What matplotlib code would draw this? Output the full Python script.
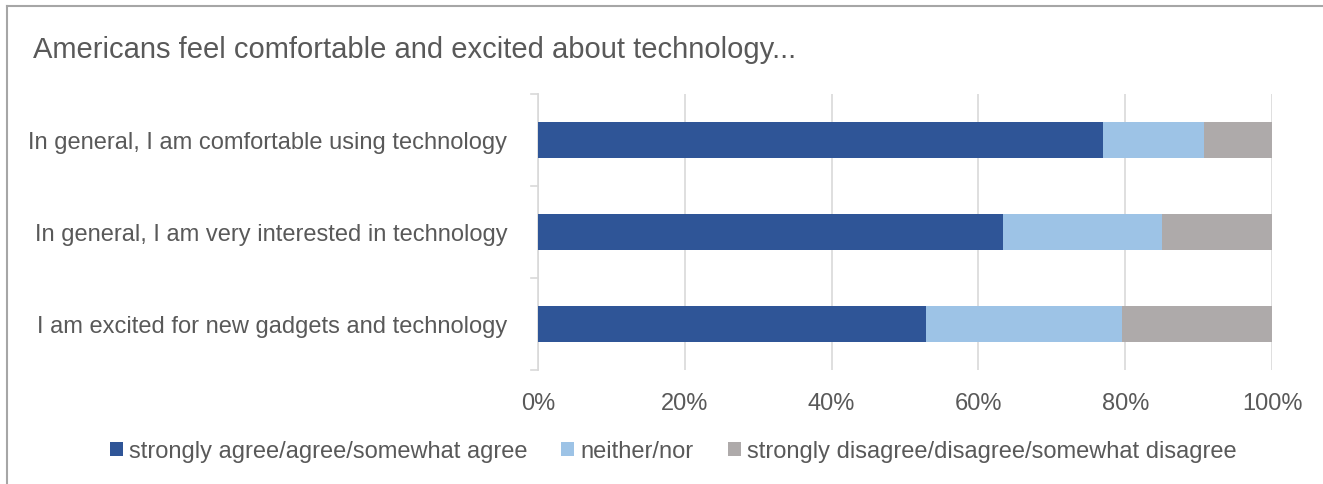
import matplotlib.pyplot as plt
from matplotlib.lines import Line2D
from matplotlib.patches import Patch

plt.rcParams["font.family"] = ["Liberation Sans", "DejaVu Sans"]

questions = [
    "In general, I am comfortable using technology",
    "In general, I am very interested in technology",
    "I am excited for new gadgets and technology",
]
agree = [77.0, 63.3, 52.8]
neither = [13.8, 21.7, 26.8]
disagree = [9.2, 15.0, 20.4]

series = ["strongly agree/agree/somewhat agree", "neither/nor",
          "strongly disagree/disagree/somewhat disagree"]
colors = ["#2F5597", "#9DC3E6", "#AEAAAA"]
text_col = "#595959"

fig = plt.figure(figsize=(13.23, 4.85), dpi=100)
ax = fig.add_axes([538 / 1323, 1 - 371 / 485, (1272 - 538) / 1323, (371 - 95) / 485])

ypos = list(range(len(questions)))[::-1]
left = [0] * len(questions)
for vals, col, name in zip([agree, neither, disagree], colors, series):
    ax.barh(ypos, vals, left=left, height=0.4, color=col, label=name, zorder=3)
    left = [l + v for l, v in zip(left, vals)]

ax.set_xlim(0, 100)
ax.set_ylim(-0.5, 2.5)
ax.set_xticks(range(0, 101, 20))
ax.set_xticklabels([f"{t}%" for t in range(0, 101, 20)], fontsize=17, color=text_col)
ax.set_yticks(ypos)
ax.set_yticklabels(questions, fontsize=17, color=text_col)
ax.tick_params(axis="y", length=0, pad=22)
ax.tick_params(axis="x", length=0, pad=16)

# category boundary ticks on the left spine
for b in [-0.5, 0.5, 1.5, 2.5]:
    ax.plot([-1.0, 0], [b, b], color="#D9D9D9", lw=1.2, clip_on=False, zorder=2)

ax.grid(axis="x", color="#D9D9D9", lw=1.2, zorder=0)
for s in ["top", "right", "bottom"]:
    ax.spines[s].set_visible(False)
ax.spines["left"].set_color("#D9D9D9")
ax.spines["left"].set_linewidth(1.2)

fig.text(33 / 1323, 1 - 50 / 485, "Americans feel comfortable and excited about technology...",
         fontsize=21, color=text_col, va="center", ha="left")

handles = [Patch(facecolor=c, edgecolor="none") for c in colors]
fig.legend(handles, series, loc="center", bbox_to_anchor=(673 / 1323, 1 - 452 / 485),
           ncol=3, frameon=False, fontsize=17, labelcolor=text_col,
           handlelength=0.55, handleheight=0.55, handletextpad=0.25, columnspacing=1.45)

# outer frame: top and left edges only
fig.add_artist(Line2D([7 / 1323, 1], [1 - 7 / 485, 1 - 7 / 485], color="#A6A6A6", lw=1.5))
fig.add_artist(Line2D([7 / 1323, 7 / 1323], [0, 1 - 7 / 485], color="#A6A6A6", lw=1.5))

fig.savefig("out.png", dpi=100)
